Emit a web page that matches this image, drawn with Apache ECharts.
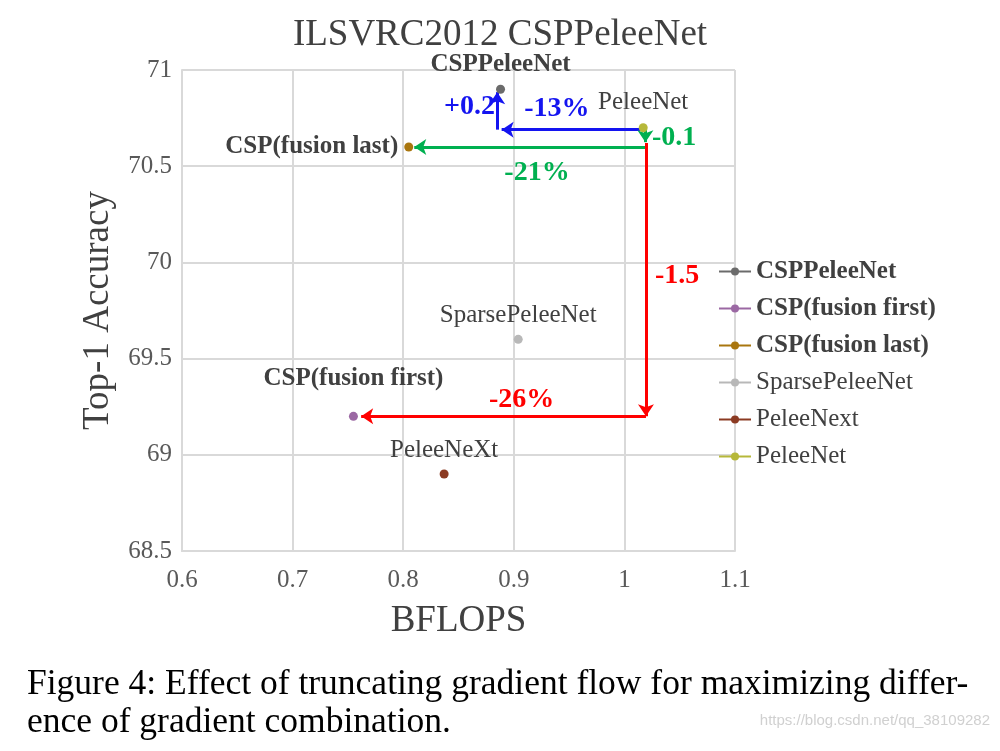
<!DOCTYPE html>
<html>
<head>
<meta charset="utf-8">
<script src="https://cdn.jsdelivr.net/npm/echarts@6/dist/echarts.min.js"></script>
<style>
  html, body { margin: 0; padding: 0; background: #fff; }
  #chart { width: 1000px; height: 751px; }
</style>
</head>
<body>
<div id="chart"></div>
<script>
// data
const names = ['CSPPeleeNet', 'CSP(fusion first)', 'CSP(fusion last)', 'SparsePeleeNet', 'PeleeNext', 'PeleeNet']
const pointLabels = ['CSPPeleeNet', 'CSP(fusion first)', 'CSP(fusion last)', 'SparsePeleeNet', 'PeleeNeXt', 'PeleeNet']
const flops = [0.888, 0.755, 0.805, 0.904, 0.837, 1.017]
const accuracy = [70.9, 69.2, 70.6, 69.6, 68.9, 70.7]
const boldNames = ['CSPPeleeNet', 'CSP(fusion first)', 'CSP(fusion last)']
const xTicks = [0.6, 1.1, 0.1]
const yTicks = [68.5, 71, 0.5]

// arrows: [from, to] in data units
const blueArrows = [[[1.017, 70.69], [0.889, 70.69]], [[0.885, 70.69], [0.885, 70.885]]]
const greenArrows = [[[1.019, 70.69], [1.019, 70.625]], [[1.019, 70.6], [0.81, 70.6]]]
const redArrows = [[[1.0195, 70.62], [1.0195, 69.2]], [[1.0195, 69.2], [0.762, 69.2]]]
const blueNotes = [['+0.2', 0.86, 70.81], ['-13%', 0.939, 70.8]]
const greenNotes = [['-0.1', 1.045, 70.65], ['-21%', 0.921, 70.465]]
const redNotes = [['-1.5', 1.0476, 69.93], ['-26%', 0.907, 69.285]]

const colors = ['#6b6b6b', '#9b68a3', '#a9760f', '#b8b8b8', '#8b3a22', '#b6b83a']
const FONT = 'Liberation Serif'
const TEXT = '#404040'
const GRID = '#d9d9d9'

// label placement around each point
const labelPos = [
  { position: 'top', distance: 8 },
  { position: 'top', distance: 21 },
  { position: 'left', distance: 6 },
  { position: 'top', distance: 7 },
  { position: 'top', distance: 7 },
  { position: 'top', distance: 8 }
]

const chart = echarts.init(document.getElementById('chart'))

const pointSeries = names.map((name, i) => ({
  name: name,
  type: 'line',
  symbol: 'circle',
  symbolSize: 9,
  itemStyle: { color: colors[i] },
  lineStyle: { color: colors[i], width: 2 },
  data: [[flops[i], accuracy[i]]],
  label: {
    show: true,
    position: labelPos[i].position,
    distance: labelPos[i].distance,
    formatter: () => pointLabels[i],
    fontFamily: FONT,
    fontSize: 25,
    color: TEXT,
    fontWeight: boldNames.includes(name) ? 'bold' : 'normal'
  },
  z: 5
}))

const arrowSeries = (id, color, arrows, notes) => ({
  name: id,
  type: 'line',
  data: [],
  markLine: {
    silent: true,
    symbol: ['none', 'arrow'],
    symbolSize: 12,
    label: { show: false },
    lineStyle: { color: color, width: 3, type: 'solid' },
    data: arrows.map(a => [{ coord: a[0] }, { coord: a[1] }])
  },
  markPoint: {
    silent: true,
    symbol: 'circle',
    symbolSize: 0,
    label: {
      show: true,
      position: 'inside',
      formatter: '{b}',
      fontFamily: FONT,
      fontSize: 28,
      fontWeight: 'bold',
      color: color
    },
    data: notes.map(n => ({ name: n[0], coord: [n[1], n[2]] }))
  },
  z: 4
})

chart.setOption({
  animation: false,
  title: {
    text: 'ILSVRC2012 CSPPeleeNet',
    left: 'center',
    top: 12,
    textStyle: { fontFamily: FONT, fontSize: 37, fontWeight: 'normal', color: TEXT }
  },
  grid: { left: 182, top: 70, width: 553, height: 481 },
  legend: {
    data: names,
    orient: 'vertical',
    left: 713,
    top: 254,
    itemWidth: 32,
    itemHeight: 10,
    itemGap: 12,
    textStyle: {
      fontFamily: FONT,
      fontSize: 25,
      color: TEXT,
      rich: {
        b: { fontFamily: FONT, fontSize: 25, fontWeight: 'bold', color: TEXT },
        n: { fontFamily: FONT, fontSize: 25, color: TEXT }
      }
    },
    formatter: n => boldNames.includes(n) ? '{b|' + n + '}' : '{n|' + n + '}'
  },
  xAxis: {
    type: 'value',
    min: xTicks[0],
    max: xTicks[1],
    interval: xTicks[2],
    name: 'BFLOPS',
    nameLocation: 'middle',
    nameGap: 52,
    nameTextStyle: { fontFamily: FONT, fontSize: 37, color: TEXT },
    axisLine: { lineStyle: { color: GRID, width: 2 } },
    axisTick: { show: false },
    axisLabel: { fontFamily: FONT, fontSize: 25, color: '#595959', margin: 17 },
    splitLine: { lineStyle: { color: GRID, width: 2 } }
  },
  yAxis: {
    type: 'value',
    min: yTicks[0],
    max: yTicks[1],
    interval: yTicks[2],
    name: 'Top-1 Accuracy',
    nameLocation: 'middle',
    nameGap: 65,
    nameTextStyle: { fontFamily: FONT, fontSize: 37, color: TEXT },
    axisLine: { show: true, lineStyle: { color: GRID, width: 2 } },
    axisTick: { show: false },
    axisLabel: { fontFamily: FONT, fontSize: 25, color: '#595959', margin: 10 },
    splitLine: { lineStyle: { color: GRID, width: 2 } }
  },
  series: pointSeries.concat([
    arrowSeries('blue', '#1414f0', blueArrows, blueNotes),
    arrowSeries('green', '#00b050', greenArrows, greenNotes),
    arrowSeries('red', '#ff0000', redArrows, redNotes)
  ]),
  graphic: [
    {
      type: 'text',
      left: 27,
      top: 667,
      style: {
        text: 'Figure 4: Effect of truncating gradient flow for maximizing differ-',
        font: '35.5px "Liberation Serif"',
        fill: '#000'
      }
    },
    {
      type: 'text',
      left: 27,
      top: 705,
      style: {
        text: 'ence of gradient combination.',
        font: '35.5px "Liberation Serif"',
        fill: '#000'
      }
    },
    {
      type: 'text',
      right: 10,
      top: 713,
      style: {
        text: 'https://blog.csdn.net/qq_38109282',
        font: '15px "Liberation Sans Narrow", "Liberation Sans"',
        fill: '#d0d0d0'
      }
    }
  ]
})
</script>
</body>
</html>
